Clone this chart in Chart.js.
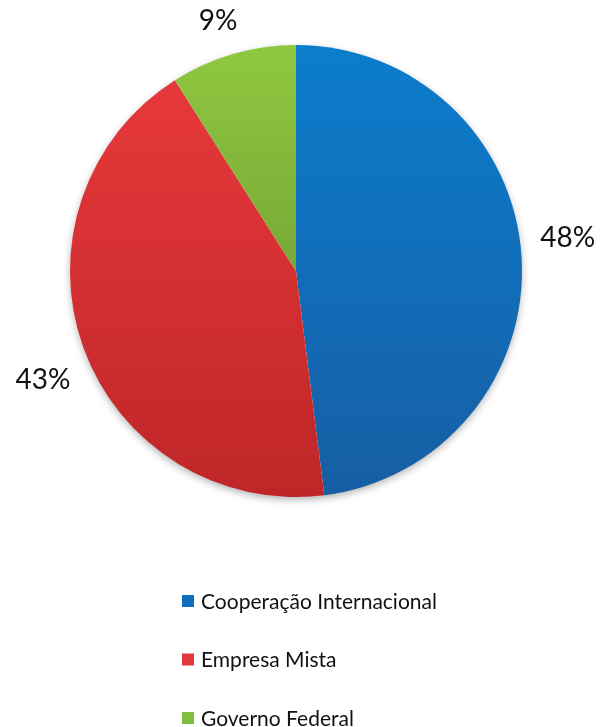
<!DOCTYPE html>
<html>
<head>
<meta charset="utf-8">
<script src="https://cdn.jsdelivr.net/npm/chart.js@4.4.1/dist/chart.umd.min.js"></script>
<style>
html,body{margin:0;padding:0;background:#fff;}
#wrap{position:relative;width:600px;height:727px;}
</style>
</head>
<body>
<div id="wrap"><canvas id="c" width="600" height="727"></canvas></div>
<script>
const categories = ['Cooperação Internacional', 'Empresa Mista', 'Governo Federal'];
const values = [48, 43, 9];
const valueLabels = ['48%', '43%', '9%'];
const gradientTops = ['#0b7dcc', '#ea3a3c', '#8fc840'];
const gradientBottoms = ['#175ea4', '#bf2628', '#5f8a2c'];
const legendColors = ['#0f6fbf', '#e0393b', '#7fbf3f'];

const FONT = 'Lato, "Open Sans", sans-serif';

const labelPlugin = {
  id: 'outsideLabels',
  afterDatasetsDraw(chart) {
    const ctx = chart.ctx;
    const meta = chart.getDatasetMeta(0);
    ctx.save();
    ctx.font = '28px ' + FONT;
    ctx.fillStyle = '#111';
    ctx.textAlign = 'center';
    ctx.textBaseline = 'middle';
    meta.data.forEach((arc, i) => {
      const p = arc.getProps(['x', 'y', 'startAngle', 'endAngle', 'outerRadius'], true);
      let mid = (p.startAngle + p.endAngle) / 2;
      const dx0 = Math.abs(Math.cos(mid));
      mid -= (3.6 * Math.PI / 180) * dx0;
      const dx = Math.cos(mid), dy = Math.sin(mid);
      const w = ctx.measureText(valueLabels[i]).width;
      const dist = p.outerRadius + 19 + (w / 2) * Math.abs(dx) + 13 * Math.abs(dy);
      ctx.fillText(valueLabels[i], p.x + dx * dist, p.y + dy * dist + 1);
    });
    ctx.restore();
  }
};

const legendPlugin = {
  id: 'vertLegend',
  afterDraw(chart) {
    const ctx = chart.ctx;
    ctx.save();
    ctx.font = '21px ' + FONT;
    ctx.textAlign = 'left';
    ctx.textBaseline = 'middle';
    const x0 = 182, y0 = 601, step = 58.5;
    categories.forEach((name, i) => {
      const y = y0 + i * step;
      ctx.fillStyle = legendColors[i];
      ctx.fillRect(x0, y - 6, 12, 12);
      ctx.fillStyle = '#111';
      ctx.fillText(name, x0 + 19, y + 1);
    });
    ctx.restore();
  }
};

const shadowPlugin = {
  id: 'pieShadow',
  beforeDatasetsDraw(chart) {
    const ctx = chart.ctx;
    const meta = chart.getDatasetMeta(0);
    const a = meta.data[0];
    if (!a) return;
    ctx.save();
    ctx.shadowColor = 'rgba(0,0,0,0.35)';
    ctx.shadowBlur = 8;
    ctx.shadowOffsetY = 3;
    ctx.fillStyle = '#fff';
    ctx.beginPath();
    ctx.arc(a.x, a.y, a.outerRadius - 1, 0, Math.PI * 2);
    ctx.fill();
    ctx.restore();
  }
};

new Chart(document.getElementById('c'), {
  type: 'pie',
  data: {
    labels: categories,
    datasets: [{
      data: values,
      borderWidth: 0,
      backgroundColor(context) {
        const chart = context.chart;
        const ca = chart.chartArea;
        const i = context.dataIndex;
        if (!ca) return gradientTops[i];
        const g = chart.ctx.createLinearGradient(0, ca.top, 0, ca.bottom);
        g.addColorStop(0, gradientTops[i]);
        g.addColorStop(1, gradientBottoms[i]);
        return g;
      }
    }]
  },
  options: {
    responsive: false,
    animation: false,
    layout: { padding: { left: 70, right: 78, top: 45, bottom: 230 } },
    plugins: {
      legend: { display: false },
      tooltip: { enabled: false }
    }
  },
  plugins: [shadowPlugin, labelPlugin, legendPlugin]
});
</script>
</body>
</html>
